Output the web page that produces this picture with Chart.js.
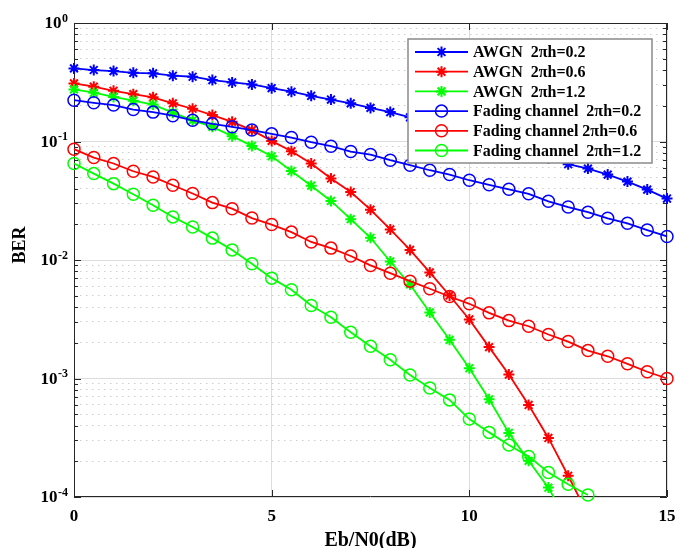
<!DOCTYPE html>
<html>
<head>
<meta charset="utf-8">
<script src="https://cdn.jsdelivr.net/npm/chart.js@4.4.1/dist/chart.umd.min.js"></script>
<style>
  html, body { margin: 0; padding: 0; background: #fff; }
</style>
</head>
<body>
<canvas id="ber" width="675" height="548"></canvas>
<script>
// Eb/N0 sample points (dB)
const ebN0 = [0, 0.5, 1, 1.5, 2, 2.5, 3, 3.5, 4, 4.5, 5, 5.5, 6, 6.5, 7, 7.5,
    8, 8.5, 9, 9.5, 10, 10.5, 11, 11.5, 12, 12.5, 13, 13.5, 14, 14.5, 15];

// BER curves
const awgn02 = [0.414, 0.401, 0.393, 0.380, 0.376, 0.359, 0.352, 0.330, 0.315, 0.303,
    0.282, 0.263, 0.243, 0.226, 0.210, 0.192, 0.177, 0.160, 0.144, 0.130,
    0.115, 0.103, 0.0913, 0.0812, 0.0722, 0.0643, 0.0591, 0.0526, 0.0459, 0.0393, 0.0330];
const awgn06 = [0.309, 0.290, 0.268, 0.251, 0.236, 0.210, 0.189, 0.167, 0.1466, 0.1246,
    0.1012, 0.0828, 0.0652, 0.0487, 0.0375, 0.0266, 0.0181, 0.01217, 0.00786, 0.00502,
    0.00315, 0.00184, 0.00108, 0.000598, 0.000315, 0.000151, 0.000071];
const awgn12 = [0.275, 0.258, 0.238, 0.221, 0.205, 0.175, 0.151, 0.133, 0.111, 0.0918,
    0.0751, 0.0564, 0.0424, 0.0315, 0.0221, 0.0154, 0.00972, 0.00622, 0.00361, 0.00212,
    0.00122, 0.000667, 0.000347, 0.000202, 0.000120, 0.000060];
const fading02 = [0.223, 0.212, 0.203, 0.186, 0.177, 0.165, 0.151, 0.141, 0.133, 0.125,
    0.116, 0.108, 0.0986, 0.0912, 0.0823, 0.0776, 0.0695, 0.0631, 0.0572, 0.0526,
    0.0471, 0.0431, 0.0395, 0.0362, 0.0313, 0.0280, 0.0253, 0.0225, 0.0204, 0.0179, 0.0158];
const fading06 = [0.0861, 0.0732, 0.0652, 0.0561, 0.0502, 0.0427, 0.0364, 0.0305, 0.0271, 0.0226,
    0.0199, 0.0172, 0.0142, 0.0126, 0.0108, 0.0090, 0.00774, 0.00663, 0.00572, 0.00492,
    0.00427, 0.00358, 0.00308, 0.00276, 0.00235, 0.00205, 0.00172, 0.00154, 0.00133, 0.00114, 0.00100];
const fading12 = [0.0652, 0.0536, 0.0441, 0.0359, 0.0290, 0.0231, 0.0190, 0.0153, 0.01217, 0.00931,
    0.00703, 0.00561, 0.00413, 0.00329, 0.00246, 0.00187, 0.00144, 0.00107, 0.000832, 0.000660,
    0.000455, 0.000351, 0.000275, 0.000220, 0.000161, 0.000128, 0.000104];

const seriesLabels = [
    'AWGN  2\u03c0h=0.2',
    'AWGN  2\u03c0h=0.6',
    'AWGN  2\u03c0h=1.2',
    'Fading channel  2\u03c0h=0.2',
    'Fading channel 2\u03c0h=0.6',
    'Fading channel  2\u03c0h=1.2'
];
const seriesValues = [awgn02, awgn06, awgn12, fading02, fading06, fading12];
const seriesColors = ['#0000ff', '#ff0000', '#00ff00', '#0000ff', '#ff0000', '#00ff00'];
const seriesMarkers = ['star', 'star', 'star', 'circle', 'circle', 'circle'];

const xTicks = [0, 5, 10, 15];
const yDecades = [1e-4, 1e-3, 1e-2, 1e-1, 1];
const yMinorSteps = [2, 3, 4, 5, 6, 7, 8, 9];

const FONT = '"Liberation Serif", "Times New Roman", serif';

function isDecade(v) {
    const l = Math.log10(v);
    return Math.abs(l - Math.round(l)) < 1e-9;
}

const datasets = seriesValues.map((vals, i) => {
    const star = seriesMarkers[i] === 'star';
    return {
        label: seriesLabels[i],
        data: vals.map((v, j) => ({ x: ebN0[j], y: v })),
        borderColor: seriesColors[i],
        backgroundColor: seriesColors[i],
        borderWidth: 1.8,
        pointStyle: seriesMarkers[i],
        pointRadius: star ? 5.5 : 6,
        pointBorderColor: seriesColors[i],
        pointBackgroundColor: 'rgba(0,0,0,0)',
        pointBorderWidth: star ? 2 : 1.5,
        tension: 0,
        order: seriesValues.length - 1 - i,
        clip: { left: 10, right: 10, top: 10, bottom: star ? 0 : 8 }
    };
});

// box, inward ticks, superscript tick labels, axis titles and legend
const matlabFrame = {
    id: 'matlabFrame',
    beforeDatasetsDraw(chart) {
        const { ctx, chartArea: a, scales } = chart;
        const xs = scales.x, ys = scales.y;
        ctx.save();
        ctx.strokeStyle = '#262626';
        ctx.lineWidth = 1;
        ctx.beginPath();
        ctx.rect(a.left + 0.5, a.top + 0.5, a.right - a.left - 1, a.bottom - a.top - 1);
        ctx.stroke();

        ctx.beginPath();
        xTicks.forEach(t => {
            const px = Math.round(xs.getPixelForValue(t)) + 0.5;
            ctx.moveTo(px, a.bottom);
            ctx.lineTo(px, a.bottom - 7);
            ctx.moveTo(px, a.top);
            ctx.lineTo(px, a.top + 7);
        });
        yDecades.forEach(d => {
            const py = Math.round(ys.getPixelForValue(d)) + 0.5;
            ctx.moveTo(a.left, py);
            ctx.lineTo(a.left + 7, py);
            ctx.moveTo(a.right, py);
            ctx.lineTo(a.right - 7, py);
            if (d < 1) {
                yMinorSteps.forEach(m => {
                    const my = Math.round(ys.getPixelForValue(d * m)) + 0.5;
                    ctx.moveTo(a.left, my);
                    ctx.lineTo(a.left + 4, my);
                    ctx.moveTo(a.right, my);
                    ctx.lineTo(a.right - 4, my);
                });
            }
        });
        ctx.stroke();
        ctx.restore();
    },
    afterDraw(chart) {
        const { ctx, chartArea: a, scales } = chart;
        const ys = scales.y;
        ctx.save();
        ctx.fillStyle = '#000';

        // y tick labels as 10^n
        yDecades.forEach(d => {
            const py = ys.getPixelForValue(d);
            const exp = String(Math.round(Math.log10(d)));
            ctx.font = 'bold 12px ' + FONT;
            ctx.textAlign = 'right';
            ctx.textBaseline = 'alphabetic';
            ctx.fillText(exp, 68, py - 1.5);
            const w = ctx.measureText(exp).width;
            ctx.font = 'bold 17px ' + FONT;
            ctx.textBaseline = 'middle';
            ctx.fillText('10', 68 - w - 0.5, py + 1);
        });

        // axis titles
        ctx.font = 'bold 20px ' + FONT;
        ctx.textAlign = 'center';
        ctx.textBaseline = 'middle';
        ctx.fillText('Eb/N0(dB)', (a.left + a.right) / 2, 541);
        ctx.save();
        ctx.translate(20, 245);
        ctx.rotate(-Math.PI / 2);
        ctx.font = 'bold 18px ' + FONT;
        ctx.fillText('BER', 0, 0);
        ctx.restore();

        // legend
        const lx = 408, ly = 39, lw = 244, lh = 124;
        ctx.fillStyle = '#fff';
        ctx.fillRect(lx, ly, lw, lh);
        ctx.strokeStyle = '#8a8a8a';
        ctx.lineWidth = 1.5;
        ctx.strokeRect(lx, ly, lw, lh);
        chart.data.datasets.forEach((ds, i) => {
            const ry = 52 + i * 19.7;
            ctx.strokeStyle = ds.borderColor;
            ctx.lineWidth = ds.borderWidth;
            ctx.beginPath();
            ctx.moveTo(415, ry);
            ctx.lineTo(468, ry);
            ctx.stroke();
            ctx.lineWidth = ds.pointBorderWidth;
            ctx.fillStyle = ds.pointBackgroundColor;
            Chart.helpers.drawPoint(ctx, {
                pointStyle: ds.pointStyle,
                radius: ds.pointRadius,
                rotation: 0,
                borderWidth: ds.pointBorderWidth
            }, 441.5, ry);
            ctx.fillStyle = '#000';
            ctx.font = 'bold 16px ' + FONT;
            ctx.textAlign = 'left';
            ctx.textBaseline = 'middle';
            ctx.fillText(ds.label, 473, ry + 1);
        });
        ctx.restore();
    }
};

const chart = new Chart(document.getElementById('ber').getContext('2d'), {
    type: 'line',
    data: { datasets },
    options: {
        responsive: false,
        devicePixelRatio: 1,
        animation: false,
        layout: { padding: { left: 0, right: 8, top: 23, bottom: 0 } },
        plugins: {
            legend: { display: false },
            tooltip: { enabled: false }
        },
        scales: {
            x: {
                type: 'linear',
                min: 0,
                max: 15,
                afterBuildTicks: s => { s.ticks = xTicks.map(v => ({ value: v })); },
                afterFit: s => { s.height = 51; s.paddingLeft = 0; s.paddingRight = 0; },
                ticks: {
                    color: '#000',
                    font: { family: FONT, size: 17, weight: 'bold' },
                    padding: 9,
                    maxRotation: 0
                },
                grid: { color: '#dcdcdc', drawTicks: false },
                border: { display: false }
            },
            y: {
                type: 'logarithmic',
                min: 1e-4,
                max: 1,
                afterBuildTicks: s => {
                    const t = [];
                    yDecades.forEach(d => {
                        t.push({ value: d, major: true });
                        if (d < 1) yMinorSteps.forEach(m => t.push({ value: d * m, major: false }));
                    });
                    s.ticks = t;
                },
                afterFit: s => { s.width = 74; s.paddingTop = 0; s.paddingBottom = 0; },
                ticks: { display: false },
                grid: {
                    drawTicks: false,
                    color: c => (c.tick && isDecade(c.tick.value)) ? '#dcdcdc' : '#cfcfcf'
                },
                border: {
                    display: false,
                    dash: c => (c.tick && isDecade(c.tick.value)) ? [] : [1.5, 4.5]
                }
            }
        }
    },
    plugins: [matlabFrame]
});
</script>
</body>
</html>
